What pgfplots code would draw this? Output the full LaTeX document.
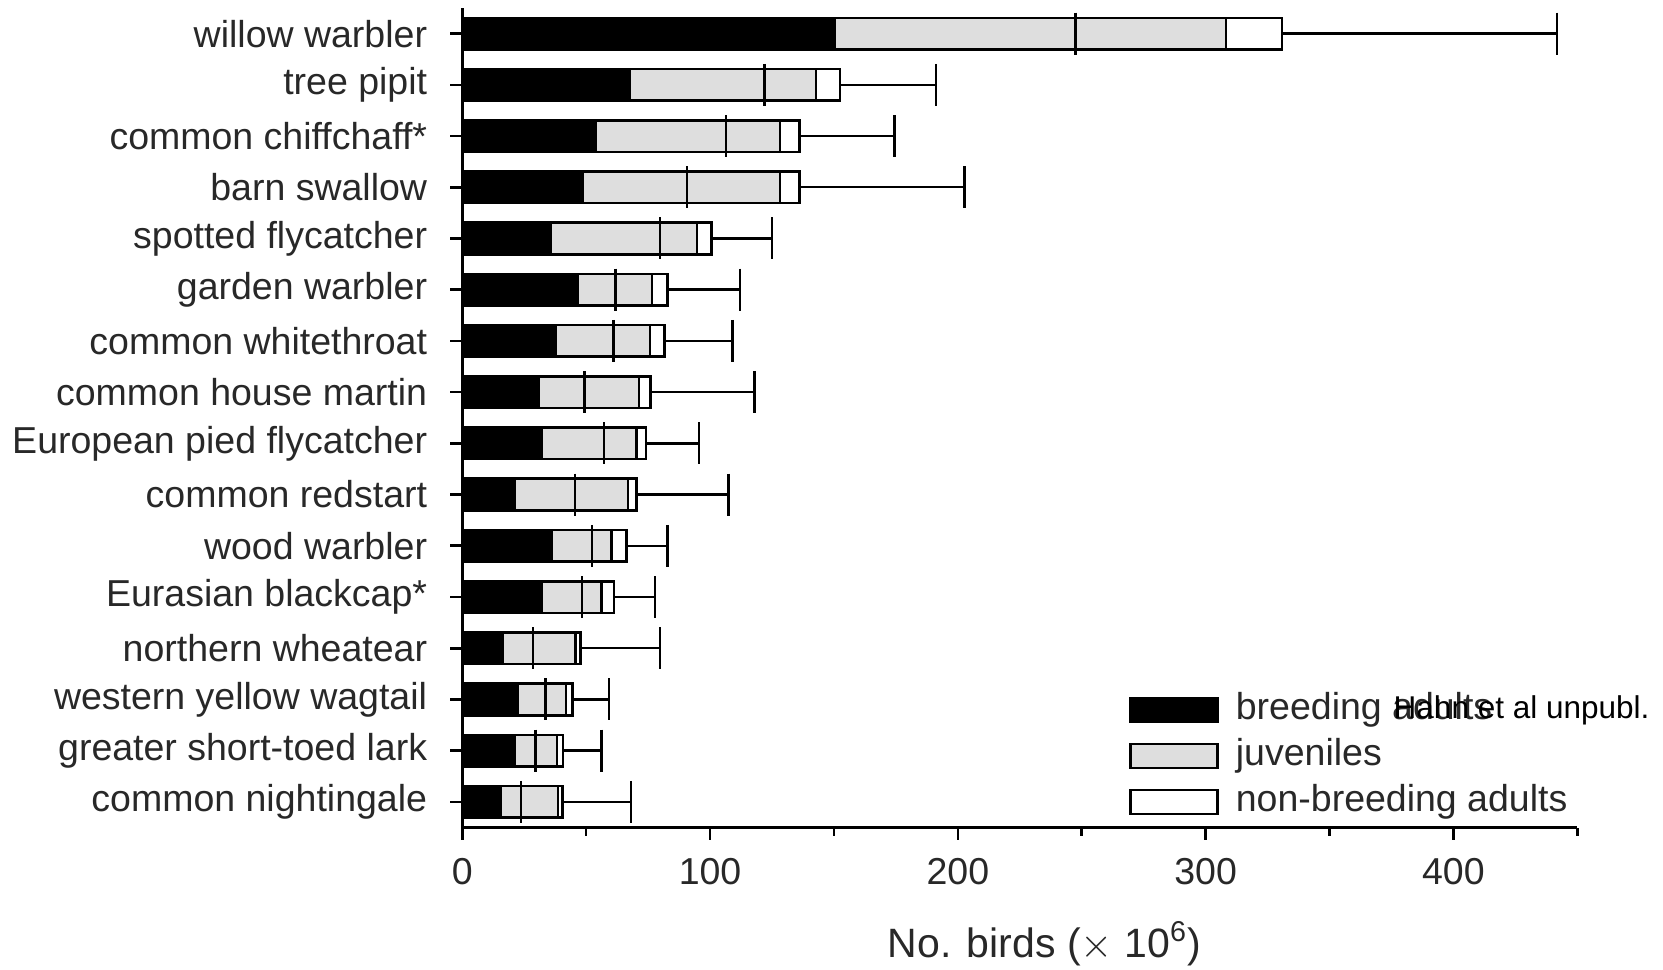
\documentclass[border=0pt]{standalone}
\usepackage{fontspec}
\setmainfont{Liberation Sans}
\usepackage{pgfplots}
\pgfplotsset{compat=1.18}
\usepackage{pgfplotstable}

\pgfplotstableread{
idx b j n tot ep mid
0 15.3 23.4 1.8 40.5 27.6 23.8
1 21.2 17.0 2.5 40.7 15.5 29.5
2 22.3 19.5 2.7 44.5 14.6 33.5
3 16.4 29.2 2.1 47.7 32.1 28.6
4 32.1 24.1 5.0 61.2 16.6 48.4
5 36.0 24.3 6.0 66.3 16.5 52.4
6 21.2 45.6 3.4 70.2 37.3 45.4
7 32.1 38.1 4.0 74.2 21.4 57.3
8 30.8 40.5 4.7 76.0 41.9 49.3
9 37.8 37.9 5.8 81.5 27.6 61.0
10 46.6 29.9 6.2 82.7 29.3 61.9
11 35.8 58.9 5.9 100.6 24.3 79.8
12 48.7 79.5 7.9 136.1 66.5 90.6
13 53.7 74.5 7.9 136.1 38.4 106.5
14 67.4 75.4 9.7 152.5 38.7 122.0
15 150.1 158.1 22.6 330.8 111.1 247.5
}\birds

\definecolor{juvgray}{RGB}{222,222,222}
\definecolor{txt}{RGB}{40,40,40}
\pgfplotsset{myleg/.style={legend image code/.code={\draw[##1] (0pt,-6pt) rectangle (43.3pt,6pt);}}}

\begin{document}
\begin{tikzpicture}
\useasboundingbox (-231.15pt,-70.75pt) rectangle (600.35pt,413.75pt);
\begin{axis}[
  scale only axis, width=557.5pt, height=409.75pt,
  xbar stacked, bar width=15.8pt,
  xmin=0, xmax=450, ymin=-0.5, ymax=15.5,
  clip=false,
  axis lines=left, axis line style={-, line width=1.3pt, black},
  tick align=outside, major tick length=6pt, minor tick length=4pt,
  tick style={black, line width=1.3pt},
  xtick={0,100,200,300,400}, minor xtick={50,150,250,350,450},
  ytick={0,...,15},
  yticklabels={common nightingale, greater short-toed lark, western yellow wagtail, northern wheatear, Eurasian blackcap*, wood warbler, common redstart, European pied flycatcher, common house martin, common whitethroat, garden warbler, spotted flycatcher, barn swallow, common chiffchaff*, tree pipit, willow warbler},
  /pgf/number format/assume math mode=true,
  tick label style={font=\fontsize{18.75}{22}\selectfont, text=txt},
  yticklabel style={anchor=east, inner sep=0pt, xshift=-11.4pt},
  xticklabel style={anchor=north, inner sep=0pt, yshift=-9pt},
  xlabel={No. birds ($\times$ 10\textsuperscript{6})},
  every axis x label/.style={at={(axis description cs:0.522,0)}, anchor=base, yshift=-64.75pt, font=\fontsize{20.5}{24}\selectfont, text=txt},
  legend style={at={(rel axis cs:0.598,0.1653)}, anchor=north west, draw=none, fill=none, inner sep=0pt, row sep=5.5pt, column sep=8.6pt, font=\fontsize{18.75}{22}\selectfont, text=txt, nodes={inner sep=0pt, anchor=west, text height=13.5pt, text depth=4pt}},
  legend cell align=left,
]
\addplot[fill=black, draw=black, line width=1.3pt, myleg] table[x=b, y=idx] {\birds};
\addlegendentry{breeding adults}
\addplot[fill=juvgray, draw=black, line width=1.3pt, myleg] table[x=j, y=idx] {\birds};
\addlegendentry{juveniles}
\addplot[fill=white, draw=black, line width=1.3pt, myleg] table[x=n, y=idx] {\birds};
\addlegendentry{non-breeding adults}
\end{axis}
\begin{axis}[
  scale only axis, width=557.5pt, height=409.75pt,
  xmin=0, xmax=450, ymin=-0.5, ymax=15.5,
  clip=false, hide axis,
]
\addplot[draw=none, mark=none, forget plot,
  error bars/.cd, x dir=plus, x explicit, error mark=|,
  error mark options={draw=black, solid, mark size=10.5pt, line width=1.2pt},
  error bar style={draw=black, solid, line width=1.2pt}]
  table[x=tot, y=idx, x error plus=ep] {\birds};
\addplot[black, only marks, mark=|, mark size=10.5pt, mark options={line width=1.2pt}]
  table[x=mid, y=idx] {\birds};
\node[anchor=base west, inner sep=0pt, font=\fontsize{15.75}{18}\selectfont, text=black] at (rel axis cs:0.835,0.1336) {Hahn et al unpubl.};
\end{axis}
\end{tikzpicture}
\end{document}
